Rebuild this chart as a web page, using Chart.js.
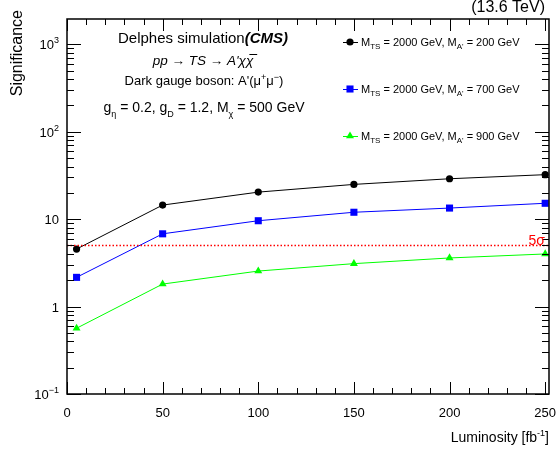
<!DOCTYPE html>
<html>
<head>
<meta charset="utf-8">
<script src="https://cdn.jsdelivr.net/npm/chart.js@4.4.0/dist/chart.umd.min.js"></script>
<style>
  html, body { margin: 0; padding: 0; background: #fff; }
  canvas { display: block; }
</style>
</head>
<body>
<canvas id="sigChart" width="556" height="449"></canvas>
<script>
// values
const luminosity = [5, 50, 100, 150, 200, 250];
const sigMA200 = [4.55, 14.5, 20.4, 25.0, 29.0, 32.3];
const sigMA700 = [2.16, 6.8, 9.6, 12.0, 13.4, 15.2];
const sigMA900 = [0.565, 1.81, 2.55, 3.1, 3.6, 4.0];
const massTS = 2000;
const massA = [200, 700, 900];
const fiveSigma = 5;
const xTicks = [0, 50, 100, 150, 200, 250];
const yDecades = [0.1, 1, 10, 100, 1000];
const yLabels = [["10", "\u22121"], ["1", ""], ["10", ""], ["10", "2"], ["10", "3"]];

const FONT = "'Liberation Sans', Arial, Helvetica, sans-serif";
const seriesColors = ["#000000", "#0000ff", "#00ff00"];
const seriesStyles = ["circle", "rect", "triangle"];
const seriesRadius = [3.6, 5, 4.6];

function font(size, style) {
    return (style || "") + " " + size + "px " + FONT;
}

// draw a run of text pieces (for sub/superscripts)
function drawParts(ctx, x, y, parts, align) {
    let w = 0;
    parts.forEach(p => {
        ctx.font = font(p.size, p.style);
        p.w = ctx.measureText(p.text).width;
        w += p.w;
    });
    let cx = align === "center" ? x - w / 2 : align === "right" ? x - w : x;
    ctx.textAlign = "left";
    ctx.textBaseline = "alphabetic";
    parts.forEach(p => {
        ctx.font = font(p.size, p.style);
        ctx.fillStyle = p.color || "#000";
        ctx.fillText(p.text, cx, y + (p.dy || 0));
        cx += p.w;
    });
    return cx;
}

function marker(ctx, style, x, y, r, color) {
    ctx.fillStyle = color;
    ctx.beginPath();
    if (style === "circle") {
        ctx.arc(x, y, r, 0, Math.PI * 2);
    } else if (style === "rect") {
        const s = r * Math.SQRT1_2;
        ctx.rect(x - s, y - s, 2 * s, 2 * s);
    } else {
        const h = r * 1.5, s = r * Math.sqrt(3) / 2;
        ctx.moveTo(x, y - r);
        ctx.lineTo(x + s, y + h - r);
        ctx.lineTo(x - s, y + h - r);
        ctx.closePath();
    }
    ctx.fill();
}

const rootFrame = {
    id: "rootFrame",
    afterDraw(chart) {
        const { ctx, chartArea: a, scales: { x, y } } = chart;
        ctx.save();

        const line = (x1, y1, x2, y2) => {
            ctx.beginPath();
            ctx.moveTo(x1, y1);
            ctx.lineTo(x2, y2);
            ctx.stroke();
        };

        // ticks on all four sides, pointing inward
        ctx.strokeStyle = "#000";
        ctx.lineWidth = 1;
        for (let v = 0; v <= x.max; v += 10) {
            const px = Math.round(x.getPixelForValue(v)) + 0.5;
            const len = v % 50 === 0 ? 12 : 6;
            line(px, a.bottom, px, a.bottom - len);
            line(px, a.top, px, a.top + len);
        }
        yDecades.forEach(d => {
            for (let k = 1; k <= 9; k++) {
                const v = d * k;
                if (v > y.max) break;
                const py = Math.round(y.getPixelForValue(v)) + 0.5;
                const len = k === 1 ? 14 : 7;
                line(a.left, py, a.left + len, py);
                line(a.right, py, a.right - len, py);
            }
        });
        ctx.lineWidth = 1.5;
        ctx.strokeRect(a.left, a.top, a.right - a.left, a.bottom - a.top);

        // y tick labels
        yDecades.forEach((d, i) => {
            const py = y.getPixelForValue(d);
            const [base, sup] = yLabels[i];
            const parts = [{ text: base, size: 13 }];
            if (sup) parts.push({ text: sup, size: 9, dy: -6 });
            drawParts(ctx, a.left - 8, py + 5, parts, "right");
        });

        // axis titles
        drawParts(ctx, a.right, 442, [
            { text: "Luminosity [fb", size: 14 },
            { text: "-1", size: 9, dy: -6 },
            { text: "]", size: 14 }
        ], "right");
        ctx.save();
        ctx.translate(22, 10);
        ctx.rotate(-Math.PI / 2);
        ctx.font = font(16);
        ctx.fillStyle = "#000";
        ctx.textAlign = "right";
        ctx.textBaseline = "alphabetic";
        ctx.fillText("Significance", 0, 0);
        ctx.restore();

        drawParts(ctx, 545, 12, [{ text: "(13.6 TeV)", size: 16 }], "right");

        // 5 sigma label
        drawParts(ctx, a.right - 4, y.getPixelForValue(fiveSigma) - 0.5,
            [{ text: "5\u03c3", size: 14, color: "#ff0000" }], "right");

        // annotation block
        drawParts(ctx, 203, 43, [
            { text: "Delphes simulation", size: 15 },
            { text: "(CMS)", size: 15, style: "italic bold" }
        ], "center");
        drawParts(ctx, 203, 65, [
            { text: "pp \u2192 TS \u2192 A'\u03c7\u03c7\u0305", size: 13.5, style: "italic" }
        ], "center");
        drawParts(ctx, 204, 85, [
            { text: "Dark gauge boson: A'(\u03bc", size: 13 },
            { text: "+", size: 9, dy: -5 },
            { text: "\u03bc", size: 13 },
            { text: "\u2212", size: 9, dy: -5 },
            { text: ")", size: 13 }
        ], "center");
        drawParts(ctx, 204, 112, [
            { text: "g", size: 14 },
            { text: "\u03b7", size: 9, dy: 5 },
            { text: " = 0.2, g", size: 14 },
            { text: "D", size: 9, dy: 5 },
            { text: " = 1.2, M", size: 14 },
            { text: "\u03c7", size: 9, dy: 5 },
            { text: " = 500 GeV", size: 14 }
        ], "center");

        // legend
        const legendY = [42, 89, 136];
        massA.forEach((m, i) => {
            const ly = legendY[i];
            ctx.strokeStyle = seriesColors[i];
            ctx.lineWidth = 1;
            line(343, ly + 0.5, 358, ly + 0.5);
            marker(ctx, seriesStyles[i], 350, ly, seriesRadius[i], seriesColors[i]);
            drawParts(ctx, 361, ly + 4, [
                { text: "M", size: 11 },
                { text: "TS", size: 8, dy: 3 },
                { text: " = " + massTS + " GeV, M", size: 11 },
                { text: "A'", size: 8, dy: 3 },
                { text: " = " + m + " GeV", size: 11 }
            ], "left");
        });

        ctx.restore();
    }
};

function series(values, i) {
    return {
        label: "M_A' = " + massA[i] + " GeV",
        data: luminosity.map((l, k) => ({ x: l, y: values[k] })),
        borderColor: seriesColors[i],
        backgroundColor: seriesColors[i],
        borderWidth: 1,
        pointStyle: seriesStyles[i],
        pointRadius: seriesRadius[i],
        pointBorderWidth: 0,
        pointHoverRadius: seriesRadius[i],
        tension: 0
    };
}

document.addEventListener("DOMContentLoaded", () => {
    const ctx = document.getElementById("sigChart").getContext("2d");
    new Chart(ctx, {
        type: "line",
        data: {
            datasets: [
                {
                    label: "5 sigma",
                    data: [{ x: 0, y: fiveSigma }, { x: 252, y: fiveSigma }],
                    borderColor: "#ff0000",
                    borderWidth: 1.5,
                    borderDash: [1.5, 2],
                    pointRadius: 0
                },
                series(sigMA200, 0),
                series(sigMA700, 1),
                series(sigMA900, 2)
            ]
        },
        options: {
            responsive: false,
            animation: false,
            events: [],
            layout: { padding: { left: 0, right: 7, top: 19, bottom: 0 } },
            plugins: { legend: { display: false }, tooltip: { enabled: false } },
            scales: {
                x: {
                    type: "linear",
                    min: 0,
                    max: 252,
                    afterBuildTicks: s => { s.ticks = xTicks.map(v => ({ value: v })); },
                    afterFit: s => { s.height = 55; s.paddingLeft = 0; s.paddingRight = 0; },
                    grid: { display: false, drawTicks: false },
                    border: { display: false },
                    ticks: {
                        padding: 12,
                        color: "#000",
                        font: { family: FONT, size: 13 },
                        maxRotation: 0,
                        autoSkip: false
                    }
                },
                y: {
                    type: "logarithmic",
                    min: 0.1,
                    max: 1950,
                    afterFit: s => { s.width = 67; s.paddingTop = 0; s.paddingBottom = 0; },
                    grid: { display: false, drawTicks: false },
                    border: { display: false },
                    ticks: { display: false }
                }
            }
        },
        plugins: [rootFrame]
    });
});
</script>
</body>
</html>
